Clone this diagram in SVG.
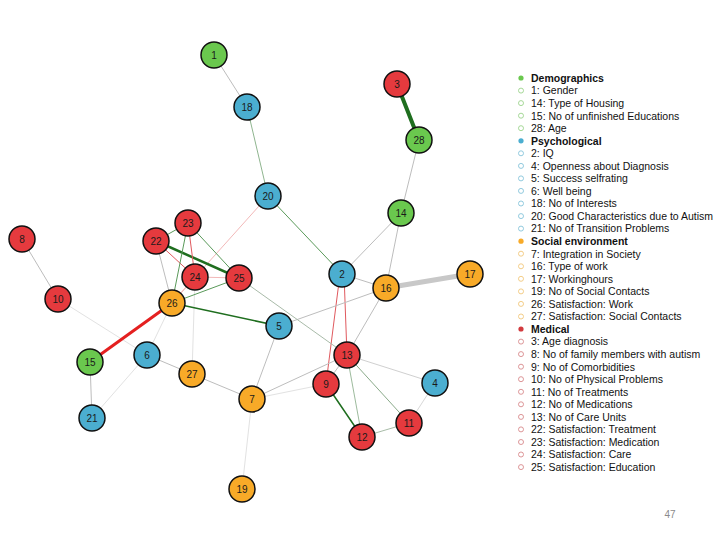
<svg xmlns="http://www.w3.org/2000/svg" width="720" height="540" viewBox="0 0 720 540">
<style>
.n{stroke:#111;stroke-width:1.5}
.g{fill:#6AC84E}.b{fill:#4BAED0}.r{fill:#E53A3E}.o{fill:#F8AA28}
.t{font-family:"Liberation Sans",Arial,sans-serif;font-size:10px;fill:#1a1a1a;text-anchor:middle}
.e{fill:none;stroke-linecap:round}
.gr{stroke:#bdbdbd;stroke-width:1}
.fg{stroke:#e2e2e2;stroke-width:1}
.gn{stroke:#5a9a5a;stroke-width:1}
.dg{stroke:#1f6e1f}
.rd{stroke:#e0595e;stroke-width:1}
.pk{stroke:#f2b8b8;stroke-width:1}
.l{font-family:"Liberation Sans",Arial,sans-serif;font-size:10.5px;fill:#111}
.lb{font-weight:bold}
.oc{fill:none;stroke-width:0.9}
</style>
<rect width="720" height="540" fill="#fff"/>
<g id="edges">
<line class="e gr" x1="214" y1="55" x2="247" y2="107"/>
<line class="e gn" style="stroke:#8fb58f" x1="247" y1="107" x2="268" y2="196"/>
<line class="e pk" x1="268" y1="196" x2="172" y2="303"/>
<line class="e gn" x1="268" y1="196" x2="342" y2="274"/>
<line class="e dg" stroke-width="4" x1="397" y1="84" x2="419" y2="140"/>
<line class="e gr" stroke-width="2" x1="419" y1="140" x2="401" y2="213"/>
<line class="e gr" x1="401" y1="213" x2="342" y2="274"/>
<line class="e gr" stroke-width="1.5" x1="401" y1="213" x2="386" y2="288"/>
<line class="e" stroke="#c8c8c8" stroke-width="5" x1="386" y1="288" x2="470" y2="274"/>
<line class="e gr" stroke-width="2" x1="342" y1="274" x2="386" y2="288"/>
<line class="e rd" x1="340" y1="274" x2="326" y2="384"/>
<line class="e rd" x1="344" y1="274" x2="347" y2="355"/>
<line class="e gr" x1="386" y1="288" x2="279" y2="326"/>
<line class="e gr" x1="386" y1="288" x2="347" y2="355"/>
<line class="e gr" style="stroke:#a9bba9" x1="239" y1="278" x2="347" y2="355"/>
<line class="e gr" stroke-width="2" x1="279" y1="326" x2="252" y2="399"/>
<line class="e gr" x1="252" y1="399" x2="347" y2="355"/>
<line class="e fg" x1="252" y1="399" x2="326" y2="384"/>
<line class="e gr" x1="192" y1="374" x2="252" y2="399"/>
<line class="e gr" x1="147" y1="355" x2="192" y2="374"/>
<line class="e fg" x1="195" y1="277" x2="192" y2="374"/>
<line class="e fg" x1="172" y1="303" x2="147" y2="355"/>
<line class="e fg" x1="147" y1="355" x2="92" y2="418"/>
<line class="e fg" x1="58" y1="299" x2="147" y2="355"/>
<line class="e gr" x1="22" y1="239" x2="58" y2="299"/>
<line class="e gr" x1="90" y1="362" x2="92" y2="418"/>
<line class="e" stroke="#e42020" stroke-width="3" x1="90" y1="362" x2="172" y2="303"/>
<line class="e gr" x1="156" y1="241" x2="172" y2="303"/>
<line class="e rd" x1="156" y1="241" x2="195" y2="277"/>
<line class="e dg" stroke-width="2.5" x1="156" y1="241" x2="239" y2="278"/>
<line class="e gn" x1="156" y1="241" x2="188" y2="223"/>
<line class="e rd" stroke="#d33" stroke-width="1.5" x1="188" y1="223" x2="195" y2="277"/>
<line class="e gn" x1="188" y1="223" x2="172" y2="303"/>
<line class="e gn" x1="188" y1="223" x2="239" y2="278"/>
<line class="e pk" x1="195" y1="277" x2="239" y2="278"/>
<line class="e pk" x1="195" y1="277" x2="172" y2="303"/>
<line class="e gn" x1="239" y1="278" x2="172" y2="303"/>
<line class="e dg" stroke-width="1.5" x1="172" y1="303" x2="279" y2="326"/>
<line class="e dg" stroke-width="1.5" x1="326" y1="384" x2="362" y2="437"/>
<line class="e gr" x1="347" y1="355" x2="326" y2="384"/>
<line class="e gn" style="stroke:#9dbb9d" x1="347" y1="355" x2="362" y2="437"/>
<line class="e gn" style="stroke:#8aaa8a" x1="347" y1="355" x2="409" y2="423"/>
<line class="e gr" style="stroke:#d0d0d0" x1="347" y1="355" x2="435" y2="383"/>
<line class="e gn" style="stroke:#a8bca8" x1="362" y1="437" x2="409" y2="423"/>
<line class="e gr" style="stroke:#d8d8d8" x1="409" y1="423" x2="435" y2="383"/>
<line class="e fg" x1="252" y1="399" x2="242" y2="489"/>
</g>
<g id="n1"><circle class="n g" cx="214" cy="55" r="13"/><text class="t" x="214" y="59">1</text></g>
<g id="n18"><circle class="n b" cx="247" cy="107" r="13"/><text class="t" x="247" y="111">18</text></g>
<g id="n20"><circle class="n b" cx="268" cy="196" r="13"/><text class="t" x="268" y="200">20</text></g>
<g id="n23"><circle class="n r" cx="188" cy="223" r="13"/><text class="t" x="188" y="227">23</text></g>
<g id="n22"><circle class="n r" cx="156" cy="241" r="13"/><text class="t" x="156" y="245">22</text></g>
<g id="n8"><circle class="n r" cx="22" cy="239" r="13"/><text class="t" x="22" y="243">8</text></g>
<g id="n24"><circle class="n r" cx="195" cy="277" r="13"/><text class="t" x="195" y="281">24</text></g>
<g id="n25"><circle class="n r" cx="239" cy="278" r="13"/><text class="t" x="239" y="282">25</text></g>
<g id="n26"><circle class="n o" cx="172" cy="303" r="13"/><text class="t" x="172" y="307">26</text></g>
<g id="n10"><circle class="n r" cx="58" cy="299" r="13"/><text class="t" x="58" y="303">10</text></g>
<g id="n5"><circle class="n b" cx="279" cy="326" r="13"/><text class="t" x="279" y="330">5</text></g>
<g id="n15"><circle class="n g" cx="90" cy="362" r="13"/><text class="t" x="90" y="366">15</text></g>
<g id="n6"><circle class="n b" cx="147" cy="355" r="13"/><text class="t" x="147" y="359">6</text></g>
<g id="n27"><circle class="n o" cx="192" cy="374" r="13"/><text class="t" x="192" y="378">27</text></g>
<g id="n7"><circle class="n o" cx="252" cy="399" r="13"/><text class="t" x="252" y="403">7</text></g>
<g id="n21"><circle class="n b" cx="92" cy="418" r="13"/><text class="t" x="92" y="422">21</text></g>
<g id="n19"><circle class="n o" cx="242" cy="489" r="13"/><text class="t" x="242" y="493">19</text></g>
<g id="n3"><circle class="n r" cx="397" cy="84" r="13"/><text class="t" x="397" y="88">3</text></g>
<g id="n28"><circle class="n g" cx="419" cy="140" r="13"/><text class="t" x="419" y="144">28</text></g>
<g id="n14"><circle class="n g" cx="401" cy="213" r="13"/><text class="t" x="401" y="217">14</text></g>
<g id="n2"><circle class="n b" cx="342" cy="274" r="13"/><text class="t" x="342" y="278">2</text></g>
<g id="n16"><circle class="n o" cx="386" cy="288" r="13"/><text class="t" x="386" y="292">16</text></g>
<g id="n17"><circle class="n o" cx="470" cy="274" r="13"/><text class="t" x="470" y="278">17</text></g>
<g id="n13"><circle class="n r" cx="347" cy="355" r="13"/><text class="t" x="347" y="359">13</text></g>
<g id="n9"><circle class="n r" cx="326" cy="384" r="13"/><text class="t" x="326" y="388">9</text></g>
<g id="n4"><circle class="n b" cx="435" cy="383" r="13"/><text class="t" x="435" y="387">4</text></g>
<g id="n11"><circle class="n r" cx="409" cy="423" r="13"/><text class="t" x="409" y="427">11</text></g>
<g id="n12"><circle class="n r" cx="362" cy="437" r="13"/><text class="t" x="362" y="441">12</text></g>
<g id="legend">
<circle cx="521" cy="78" r="2.6" fill="#6AC84E"/>
<circle class="oc" cx="521" cy="90.6" r="2.5" stroke="#9cd48c"/>
<circle class="oc" cx="521" cy="103.1" r="2.5" stroke="#9cd48c"/>
<circle class="oc" cx="521" cy="115.7" r="2.5" stroke="#9cd48c"/>
<circle class="oc" cx="521" cy="128.2" r="2.5" stroke="#9cd48c"/>
<circle cx="521" cy="140.8" r="2.6" fill="#4BAED0"/>
<circle class="oc" cx="521" cy="153.3" r="2.5" stroke="#86c4da"/>
<circle class="oc" cx="521" cy="165.9" r="2.5" stroke="#86c4da"/>
<circle class="oc" cx="521" cy="178.4" r="2.5" stroke="#86c4da"/>
<circle class="oc" cx="521" cy="190.9" r="2.5" stroke="#86c4da"/>
<circle class="oc" cx="521" cy="203.5" r="2.5" stroke="#86c4da"/>
<circle class="oc" cx="521" cy="216.1" r="2.5" stroke="#86c4da"/>
<circle class="oc" cx="521" cy="228.6" r="2.5" stroke="#86c4da"/>
<circle cx="521" cy="241.2" r="2.6" fill="#F8AA28"/>
<circle class="oc" cx="521" cy="253.7" r="2.5" stroke="#f2c77a"/>
<circle class="oc" cx="521" cy="266.3" r="2.5" stroke="#f2c77a"/>
<circle class="oc" cx="521" cy="278.8" r="2.5" stroke="#f2c77a"/>
<circle class="oc" cx="521" cy="291.4" r="2.5" stroke="#f2c77a"/>
<circle class="oc" cx="521" cy="303.9" r="2.5" stroke="#f2c77a"/>
<circle class="oc" cx="521" cy="316.5" r="2.5" stroke="#f2c77a"/>
<circle cx="521" cy="329" r="2.6" fill="#D23A3E"/>
<circle class="oc" cx="521" cy="341.6" r="2.5" stroke="#d88a8c"/>
<circle class="oc" cx="521" cy="354.1" r="2.5" stroke="#d88a8c"/>
<circle class="oc" cx="521" cy="366.7" r="2.5" stroke="#d88a8c"/>
<circle class="oc" cx="521" cy="379.2" r="2.5" stroke="#d88a8c"/>
<circle class="oc" cx="521" cy="391.8" r="2.5" stroke="#d88a8c"/>
<circle class="oc" cx="521" cy="404.3" r="2.5" stroke="#d88a8c"/>
<circle class="oc" cx="521" cy="416.9" r="2.5" stroke="#d88a8c"/>
<circle class="oc" cx="521" cy="429.4" r="2.5" stroke="#d88a8c"/>
<circle class="oc" cx="521" cy="442" r="2.5" stroke="#d88a8c"/>
<circle class="oc" cx="521" cy="454.5" r="2.5" stroke="#d88a8c"/>
<circle class="oc" cx="521" cy="467.1" r="2.5" stroke="#d88a8c"/>
<text class="l lb" x="531" y="81.8">Demographics</text>
<text class="l" x="531" y="94.4">1: Gender</text>
<text class="l" x="531" y="106.9">14: Type of Housing</text>
<text class="l" x="531" y="119.5">15: No of unfinished Educations</text>
<text class="l" x="531" y="132">28: Age</text>
<text class="l lb" x="531" y="144.6">Psychological</text>
<text class="l" x="531" y="157.1">2: IQ</text>
<text class="l" x="531" y="169.7">4: Openness about Diagnosis</text>
<text class="l" x="531" y="182.2">5: Success selfrating</text>
<text class="l" x="531" y="194.7">6: Well being</text>
<text class="l" x="531" y="207.3">18: No of Interests</text>
<text class="l" x="531" y="219.9">20: Good Characteristics due to Autism</text>
<text class="l" x="531" y="232.4">21: No of Transition Problems</text>
<text class="l lb" x="531" y="245">Social environment</text>
<text class="l" x="531" y="257.5">7: Integration in Society</text>
<text class="l" x="531" y="270.1">16: Type of work</text>
<text class="l" x="531" y="282.6">17: Workinghours</text>
<text class="l" x="531" y="295.2">19: No of Social Contacts</text>
<text class="l" x="531" y="307.7">26: Satisfaction: Work</text>
<text class="l" x="531" y="320.3">27: Satisfaction: Social Contacts</text>
<text class="l lb" x="531" y="332.8">Medical</text>
<text class="l" x="531" y="345.4">3: Age diagnosis</text>
<text class="l" x="531" y="357.9">8: No of family members with autism</text>
<text class="l" x="531" y="370.5">9: No of Comorbidities</text>
<text class="l" x="531" y="383">10: No of Physical Problems</text>
<text class="l" x="531" y="395.6">11: No of Treatments</text>
<text class="l" x="531" y="408.1">12: No of Medications</text>
<text class="l" x="531" y="420.7">13: No of Care Units</text>
<text class="l" x="531" y="433.2">22: Satisfaction: Treatment</text>
<text class="l" x="531" y="445.8">23: Satisfaction: Medication</text>
<text class="l" x="531" y="458.3">24: Satisfaction: Care</text>
<text class="l" x="531" y="470.9">25: Satisfaction: Education</text>
</g>
<text x="670" y="518" font-family="'Liberation Sans',Arial,sans-serif" font-size="10" fill="#8a8a8a" text-anchor="middle">47</text>
</svg>
